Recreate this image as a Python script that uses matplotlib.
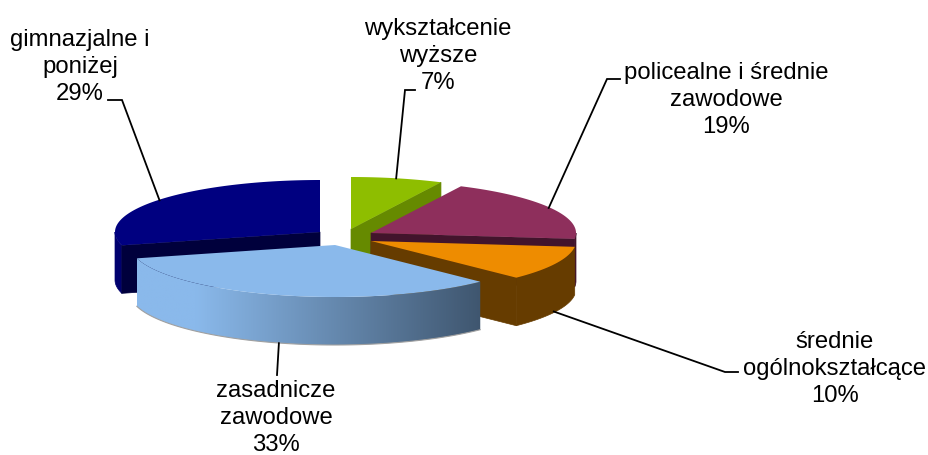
import numpy as np
import matplotlib
matplotlib.use("Agg")
import matplotlib.pyplot as plt
from matplotlib.colors import to_rgb
from matplotlib.patches import Polygon

plt.rcParams['font.family'] = ['Liberation Sans', 'DejaVu Sans']

# share of each slice, clockwise from 12 o'clock
names = ["wykształcenie\nwyższe", "policealne i średnie\nzawodowe", "średnie\nogólnokształcące",
         "zasadnicze\nzawodowe", "gimnazjalne i\nponiżej"]
shares = [7.1, 19.2, 10.49, 32.8, 28.6]

top_colors = ["#8ebe00", "#8e2f5c", "#ee8c00", "#8ab9eb", "#000080"]
cut_colors = ["#668a00", "#42142c", "#663c00", "#3f566f", "#00003c"]
wall_colors = ["#668a00", "#42142c", "#663c00", "#8ab9eb", "#00006e"]

# pie tip of each exploded slice, pixels
tips = [(351, 229), (371, 233), (371, 241), (335, 245), (320, 232)]
# label centre and leader elbow points
label_xy = [(438, 56), (726, 100), (835, 369), (276, 418), (80, 67)]
elbows = [[(405, 90), (415, 90)], [(607, 79), (620, 79)], [(725, 372), (738, 372)],
          [(277, 375)], [(122, 100), (108, 100)]]
wall_leader = [False, False, True, True, False]
leader_dx = [-1, -2, -2, -3, 2]

rx, ry, thick = 205, 52, 48

fracs = np.array(shares) / np.sum(shares)
ends = np.cumsum(fracs) * 360
starts = ends - fracs * 360

def rim(tip, a0, a1, n=80):
    t = np.radians(np.linspace(a0, a1, n))
    return np.column_stack([tip[0] + rx * np.sin(t), tip[1] - ry * np.cos(t)])

fig = plt.figure(figsize=(9.29, 4.55), dpi=100)
ax = fig.add_axes([0, 0, 1, 1])
ax.axis("off")

def draw_slice(i, z):
    tip, a0, a1 = tips[i], starts[i], ends[i]
    down = np.array([0, thick])
    # outer wall, only the front half of the rim shows
    w0, w1 = max(a0, 90), min(a1, 270)
    if w1 > w0:
        arc = rim(tip, w0, w1)
        wall = np.vstack([arc, arc[::-1] + down])
        if i == 3:
            # blue wall fades to dark towards its right end
            patch = Polygon(wall, closed=True, fc="none", ec="none", zorder=z)
            ax.add_patch(patch)
            grad = np.interp(np.linspace(0, 1, 256), [0, 0.17, 1], [0, 0, 1])[:, None]
            img = (np.array(to_rgb(wall_colors[i])) * (1 - grad) + np.array(to_rgb(cut_colors[i])) * grad)[None, :, :]
            x0, x1 = wall[:, 0].min(), wall[:, 0].max()
            y0, y1 = wall[:, 1].min(), wall[:, 1].max()
            im = ax.imshow(img, extent=[x0, x1, y1, y0], aspect="auto", zorder=z, interpolation="bilinear")
            im.set_clip_path(patch)
            low = arc + down
            ax.plot(low[:, 0], low[:, 1], color="#a0a0a0", lw=0.8, zorder=z)
        else:
            ax.add_patch(Polygon(wall, closed=True, fc=wall_colors[i], ec=wall_colors[i], lw=0.5, zorder=z))
    # cut face that looks at the viewer
    a_cut = a1 if a1 < 180 else a0
    p = rim(tip, a_cut, a_cut, 2)[0]
    t = np.array(tip)
    if i != 3:
        ax.add_patch(Polygon([t, p, p + down, t + down], closed=True, fc=cut_colors[i], ec=cut_colors[i], lw=0.5, zorder=z))
    top = np.vstack([t, rim(tip, a0, a1)])
    ax.add_patch(Polygon(top, closed=True, fc=top_colors[i], ec="none", zorder=z + 0.5))

# back to front
for z, i in enumerate([0, 4, 1, 2, 3]):
    draw_slice(i, z + 1)

for i, name in enumerate(names):
    mid = (starts[i] + ends[i]) / 2
    p = rim(tips[i], mid, mid, 2)[0] + [leader_dx[i], 0]
    if wall_leader[i]:
        p = p + [0, thick]
    pts = np.vstack([p, elbows[i]])
    ax.plot(pts[:, 0], pts[:, 1], color="black", lw=1.3, zorder=10, solid_joinstyle="miter")
    ax.text(label_xy[i][0], label_xy[i][1], f"{name}\n{shares[i]:.0f}%", ha="center", va="center",
            fontsize=17.2, color="black", linespacing=1.3, zorder=11)

ax.set_xlim(0, 929)
ax.set_ylim(455, 0)

fig.savefig("out.png", dpi=100)
